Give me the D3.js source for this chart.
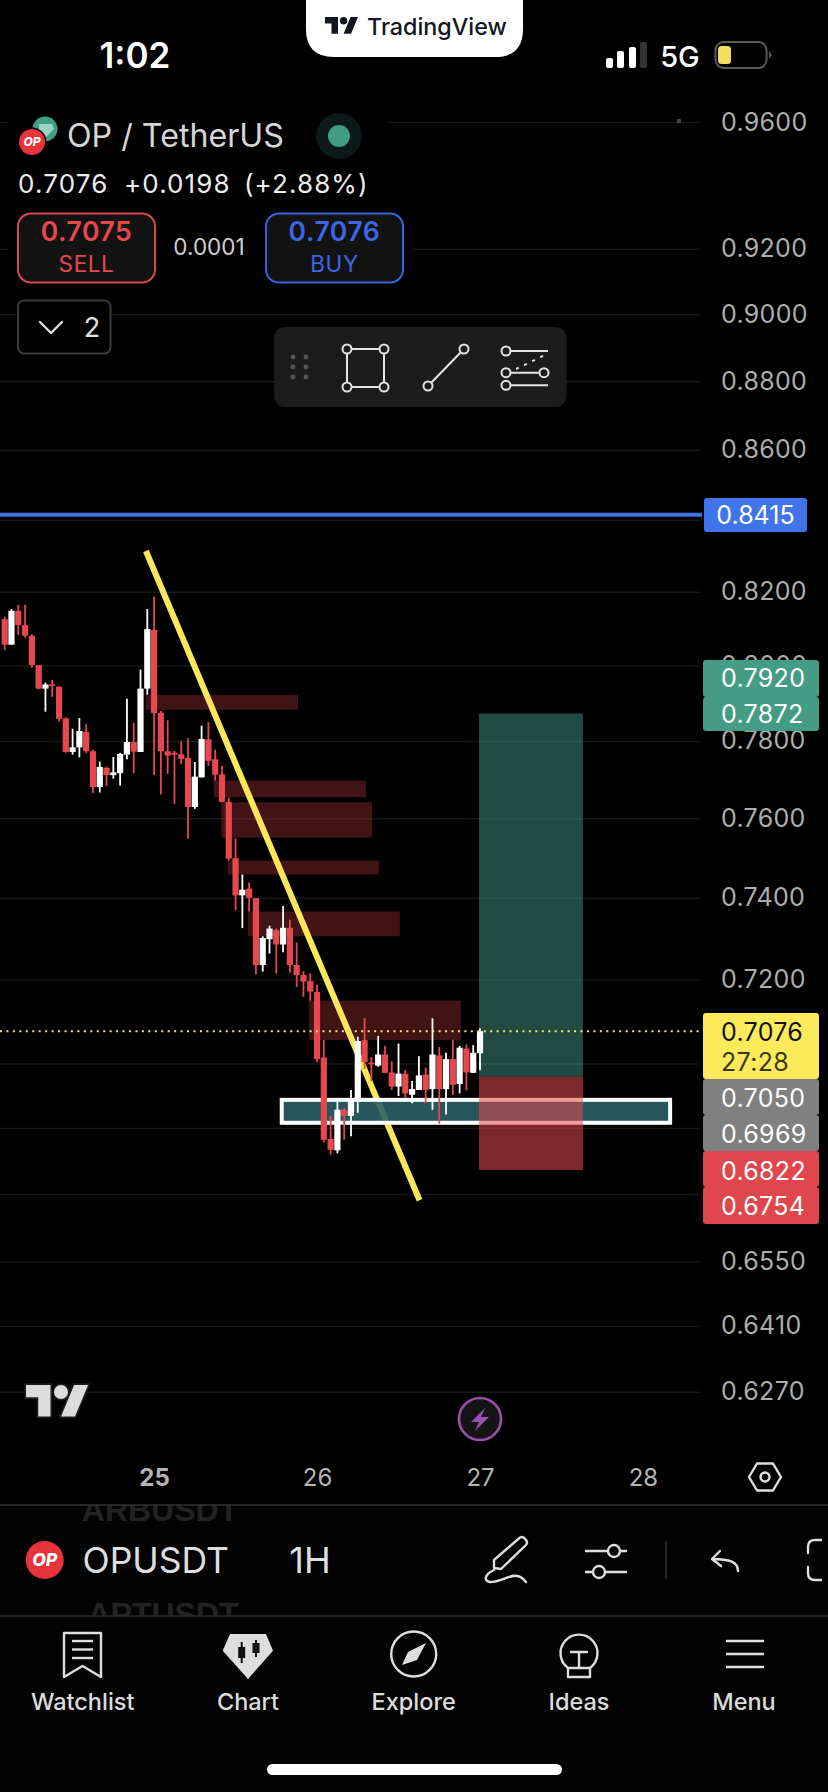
<!doctype html>
<html>
<head>
<meta charset="utf-8" />
<title>OPUSDT 1H</title>
<script src="https://cdn.jsdelivr.net/npm/d3@7"></script>
<style>
  html,body{margin:0;background:#000}
  svg{display:block;font-family:Inter,sans-serif}
  .axis path.domain{display:none}
  .y-axis line{stroke:#171717;stroke-width:1.5}
  .y-axis text{fill:#adadad;font-size:25px;font-family:Inter,sans-serif}
  .x-axis line{display:none}
  .x-axis text{fill:#b4b4b4;font-size:24px;font-family:Inter,sans-serif}
  .ico{fill:none;stroke:#dedede;stroke-width:2.4;stroke-linecap:round;stroke-linejoin:round}
</style>
</head>
<body>
<svg id="chart" width="828" height="1792"></svg>
<script>
// candles, oldest first, one per hour. last one opens at the "27" tick
const opens = [
  .8125,.8056,.8148,.8109,.8080,.8001,.7938,.7949,.7943,.7859,.7771,.7783,.7824,.7773,.7680,.7730,.7711,.7716,.7764,.7797,
  .7771,.7938,.8096,.7874,.7773,.7769,.7765,.7756,.7629,.7705,.7804,.7752,.7713,.7642,.7499,.7406,.7423,.7399,.7235,.7298,
  .7320,.7285,.7326,.7235,.7211,.7196,.7170,.7014,.6825,.6799,.6892,.6878,.6919,.7055,.7002,.6995,.7021,.6979,.6946,.6976,
  .6927,.6938,.6974,.6940,.7019,.6940,.7010,.6952,.7035,.6978,.7024
];
const highs = [
  .8132,.8153,.8164,.8164,.8084,.8001,.7954,.7961,.7944,.7862,.7832,.7860,.7844,.7777,.7746,.7733,.7758,.7769,.7911,.7847,
  .7989,.8153,.8187,.7879,.7854,.7774,.7799,.7807,.7745,.7840,.7849,.7777,.7735,.7653,.7549,.7458,.7438,.7400,.7305,.7331,
  .7324,.7380,.7346,.7290,.7220,.7215,.7187,.7055,.6878,.6911,.6896,.6938,.7063,.7107,.7015,.7065,.7041,.7005,.7047,.6985,
  .6959,.7017,.6990,.7107,.7039,.7025,.7056,.7041,.7045,.7043,.7083
];
const lows = [
  .8041,.8056,.8082,.8075,.7994,.7936,.7877,.7916,.7851,.7769,.7764,.7757,.7768,.7665,.7666,.7683,.7702,.7684,.7752,.7716,
  .7771,.7922,.7711,.7661,.7714,.7637,.7740,.7548,.7624,.7705,.7735,.7697,.7641,.7493,.7369,.7325,.7366,.7212,.7219,.7263,
  .7214,.7266,.7217,.7182,.7158,.7149,.7003,.6817,.6789,.6792,.6823,.6831,.6885,.6987,.6959,.6992,.6978,.6938,.6924,.6919,
  .6907,.6938,.6907,.6892,.6860,.6881,.6926,.6930,.6937,.6978,.6984
];
const closes = [
  .8056,.8148,.8109,.8080,.8001,.7938,.7949,.7945,.7858,.7771,.7783,.7826,.7773,.7680,.7732,.7711,.7718,.7766,.7797,.7772,
  .7938,.8098,.7873,.7773,.7762,.7764,.7753,.7629,.7707,.7805,.7748,.7712,.7642,.7498,.7406,.7420,.7400,.7235,.7301,.7324,
  .7285,.7326,.7235,.7211,.7195,.7171,.7010,.6823,.6800,.6892,.6878,.6919,.7053,.7003,.6998,.7021,.6978,.6946,.6976,.6930,
  .6940,.6972,.6938,.7021,.6940,.7010,.6950,.7037,.6979,.7025,.7076
];
const firstHour = -22;            // hours relative to the "25" tick

const priceTicks = [.96,.92,.90,.88,.86,.84,.82,.80,.78,.76,.74,.72,.70,.685,.67,.655,.641,.627];
const coveredTicks = [.84,.70,.685,.67];   // these sit behind the price tags, line only
const dayTicks = [0,24,48,72];
const dayLabels = ['25','26','27','28'];

// drawings: [hourFrom, hourTo, priceTop, priceBottom]
const supplyZones = [
  [-1.2,21.2,.7921,.7882],
  [8.8,31.2,.7697,.7654],
  [9.9,32.1,.7641,.7551],
  [10.9,33.1,.7493,.7458],
  [13.8,36.2,.7366,.7305],
  [22.8,45.2,.7149,.7055]
];
const demandZone = [18.8,76,.6915,.6862];
const trendLine = [[-1.2,.8313],[39.1,.6686]];
const longPosition = {from:48,to:63.3,target:.7872,entry:.6969,stop:.6754};
const lastPrice = .7076, alertPrice = .8415;

const tagValues = ['0.7920','0.7872','0.7076','0.7050','0.6969','0.6822','0.6754'];

const svg = d3.select('#chart');
const x = d3.scaleLinear().domain([-22,48]).range([4.7,480]);
const y = d3.scaleLog().domain([.96,.627]).range([122,1391.7]);

svg.append('rect').attr('width',828).attr('height',1792).attr('fill','#000');

// grid + price scale
const fmt = d3.format('.4f');
const yAxis = svg.append('g').attr('class','axis y-axis').attr('transform','translate(700,0)')
  .call(d3.axisRight(y).tickValues(priceTicks).tickSize(-700).tickPadding(21)
    .tickFormat(d=>coveredTicks.includes(d)?'':fmt(d)));
yAxis.selectAll('text').style('letter-spacing','.3px');

// header hides the grid behind it
svg.append('rect').attr('x',8).attr('y',105).attr('width',380).attr('height',70).attr('fill','#000');
svg.append('rect').attr('x',8).attr('y',240).attr('width',404).attr('height',20).attr('fill','#000');
svg.append('rect').attr('x',677).attr('y',119).attr('width',4).attr('height',4).attr('fill','#444');

const xAxis = svg.append('g').attr('class','axis x-axis').attr('transform','translate(0,1477)')
  .call(d3.axisBottom(x).tickValues(dayTicks).tickSize(0).tickPadding(0).tickFormat((d,i)=>dayLabels[i]));
xAxis.selectAll('text').attr('dy','.36em').attr('y',0);
xAxis.selectAll('text').filter((d,i)=>i===0).style('font-weight',700);

// lines
svg.append('line').attr('x1',0).attr('x2',702).attr('y1',y(alertPrice)).attr('y2',y(alertPrice))
  .attr('stroke','#3d6fe8').attr('stroke-width',4);

svg.selectAll('.supply').data(supplyZones).join('rect').attr('class','supply')
  .attr('x',d=>x(d[0])).attr('width',d=>x(d[1])-x(d[0]))
  .attr('y',d=>y(d[2])).attr('height',d=>y(d[3])-y(d[2]))
  .attr('fill','#e5484d').attr('fill-opacity',.28);

svg.append('path').attr('d',d3.line().x(d=>x(d[0])).y(d=>y(d[1]))(trendLine))
  .attr('stroke','#fbe85a').attr('stroke-width',6).attr('fill','none');

svg.append('rect')
  .attr('x',x(demandZone[0])).attr('width',x(demandZone[1])-x(demandZone[0]))
  .attr('y',y(demandZone[2])).attr('height',y(demandZone[3])-y(demandZone[2]))
  .attr('fill','#2b5f66').attr('fill-opacity',.9)
  .attr('stroke','#fff').attr('stroke-width',4);

// long position box
const lp = longPosition;
svg.append('rect').attr('x',x(lp.from)-1).attr('width',x(lp.to)-x(lp.from))
  .attr('y',y(lp.target)).attr('height',y(lp.entry)-y(lp.target))
  .attr('fill','#4aa595').attr('fill-opacity',.45);
svg.append('rect').attr('x',x(lp.from)-1).attr('width',x(lp.to)-x(lp.from))
  .attr('y',y(lp.entry)).attr('height',y(lp.stop)-y(lp.entry))
  .attr('fill','#e5484d').attr('fill-opacity',.55);

// candles on top of the drawings
const candles = opens.map((o,i)=>({hour:firstHour+i,o,h:highs[i],l:lows[i],c:closes[i]}));
const barColor = d=>d.c>=d.o?'#ffffff':'#e5484d';
svg.selectAll('.wick').data(candles).join('rect').attr('class','wick')
  .attr('x',d=>x(d.hour)-.9).attr('width',1.8)
  .attr('y',d=>y(d.h)).attr('height',d=>y(d.l)-y(d.h)).attr('fill',barColor);
svg.selectAll('.body').data(candles).join('rect').attr('class','body')
  .attr('x',d=>x(d.hour)-3.1).attr('width',6.2)
  .attr('y',d=>y(Math.max(d.o,d.c))).attr('height',d=>Math.max(1.5,Math.abs(y(d.o)-y(d.c)))).attr('fill',barColor);

svg.append('line').attr('x1',0).attr('x2',702).attr('y1',y(lastPrice)).attr('y2',y(lastPrice))
  .attr('stroke','#fdeb5c').attr('stroke-width',2).attr('stroke-dasharray','2,4.45');

// price tags
function tag(top,h,fill){
  svg.append('rect').attr('x',703).attr('y',top).attr('width',116).attr('height',h).attr('rx',3).attr('fill',fill);
}
function tagText(s,cy,fill,op){
  svg.append('text').attr('x',721).attr('y',cy).attr('dy','.36em').attr('font-size',25)
    .attr('letter-spacing','.3px').attr('fill',fill).attr('opacity',op||1).text(s);
}
tag(660,37,'#459c84'); tag(697,34,'#459c84');
tag(1013,66,'#fdeb5c');
tag(1079,36,'#808080'); tag(1115,36,'#808080');
tag(1151,36,'#e0474c'); tag(1187,37,'#e0474c');
tagText(tagValues[0],678,'#fff'); tagText(tagValues[1],714,'#fff');
tagText(tagValues[2],1032,'#111'); tagText('27:28',1062,'#3a3a12');
tagText(tagValues[3],1098,'#fff'); tagText(tagValues[4],1134,'#fff');
tagText(tagValues[5],1171,'#fff'); tagText(tagValues[6],1206,'#fff');
svg.append('rect').attr('x',704).attr('y',498).attr('width',103).attr('height',34).attr('rx',3).attr('fill','#3f74ea');
svg.append('text').attr('x',755.5).attr('y',515).attr('dy','.36em').attr('text-anchor','middle')
  .attr('font-size',25).attr('fill','#fff').text('0.8415');

// status bar
function txt(s,xx,yy,size,fill,opts){
  const t=svg.append('text').attr('x',xx).attr('y',yy).attr('font-size',size).attr('fill',fill).text(s);
  Object.entries(opts||{}).forEach(([k,v])=>t.attr(k,v));
  return t;
}
txt('1:02',135,68,35,'#fff',{'text-anchor':'middle','font-weight':600});
svg.append('path').attr('d','M306,0H523V29Q523,57 495,57H334Q306,57 306,29Z').attr('fill','#fff');
const tvLogo='M14 22H7V11H0V4h14v18zM28 22h-8l7.5-18h8L28 22z';
const tvPill=svg.append('g').attr('transform','translate(325,13.3) scale(.93)').attr('fill','#131722');
tvPill.append('path').attr('d',tvLogo); tvPill.append('circle').attr('cx',20).attr('cy',8).attr('r',4);
txt('TradingView',367,35,23.3,'#131722',{'font-weight':500});
[[606,58],[617,51],[629,47]].forEach(b=>svg.append('rect').attr('x',b[0]).attr('y',b[1]).attr('width',7).attr('height',68-b[1]).attr('rx',2).attr('fill','#fff'));
svg.append('rect').attr('x',640).attr('y',42).attr('width',7).attr('height',26).attr('rx',2).attr('fill','#333');
txt('5G',680,66.5,29,'#fff',{'text-anchor':'middle','font-weight':500});
svg.append('rect').attr('x',715.5).attr('y',42).attr('width',51).attr('height',26).attr('rx',8).attr('fill','none').attr('stroke','#5a5a5a').attr('stroke-width',2);
svg.append('rect').attr('x',718).attr('y',46).attr('width',13).attr('height',18).attr('rx',3.5).attr('fill','#f3dc5c');
svg.append('path').attr('d','M769,51L772,55L769,59Z').attr('fill','#5a5a5a');

// symbol header
function opIcon(cx,cy,r){
  svg.append('circle').attr('cx',cx).attr('cy',cy).attr('r',r).attr('fill','#e9333a');
  svg.append('text').attr('x',cx).attr('y',cy).attr('dy','.36em').attr('text-anchor','middle')
    .attr('font-size',r*.92).attr('font-weight',800).attr('font-style','italic').attr('fill','#fff').text('OP');
}
svg.append('circle').attr('cx',45).attr('cy',129).attr('r',12.5).attr('fill','#3fa085');
svg.append('path').attr('d','M39,124H52L54,129L46,137L39,129Z').attr('fill','#bfe3d8').attr('opacity',.75);
svg.append('circle').attr('cx',32).attr('cy',142).attr('r',14.5).attr('fill','#000');
opIcon(32,142,13);
txt('OP / TetherUS',67,147,32.2,'#d6d6d6');
svg.append('circle').attr('cx',339).attr('cy',136).attr('r',23).attr('fill','#0b1a18');
svg.append('circle').attr('cx',339).attr('cy',136).attr('r',11).attr('fill','#429b82');
txt('0.7076',18,192.5,26,'#ececec',{'letter-spacing':'1.2px'});
txt('+0.0198',124,192.5,26,'#ececec',{'letter-spacing':'1.1px'});
txt('(+2.88%)',244,192.5,26,'#ececec',{'letter-spacing':'1.1px'});

function tradeBtn(x0,stroke,price,label,fill){
  svg.append('rect').attr('x',x0).attr('y',213.5).attr('width',137).attr('height',69).attr('rx',13)
    .attr('fill','#121212').attr('stroke',stroke).attr('stroke-width',2);
  txt(price,x0+68.5,241,26.5,fill,{'text-anchor':'middle','font-weight':600,'letter-spacing':'.6px'});
  txt(label,x0+68.5,271.5,22.5,fill,{'text-anchor':'middle','letter-spacing':'.6px'});
}
tradeBtn(18,'#d8474a','0.7075','SELL','#e5484d');
tradeBtn(266,'#3763e0','0.7076','BUY','#3b66e6');
txt('0.0001',209,255,22.5,'#cfcfcf',{'text-anchor':'middle'});

svg.append('rect').attr('x',18).attr('y',300.5).attr('width',92.5).attr('height',53).attr('rx',6)
  .attr('fill','#000').attr('stroke','#3a3a3a').attr('stroke-width',2);
svg.append('path').attr('d','M40,322L51,333L62,322').attr('class','ico').attr('stroke-width',2.6);
txt('2',92,337,27,'#e0e0e0',{'text-anchor':'middle'});

// floating drawing toolbar
svg.append('rect').attr('x',274).attr('y',327).attr('width',292.5).attr('height',80).attr('rx',11).attr('fill','#1c1c1c');
[293,306].forEach(a=>[357,367,377].forEach(b=>svg.append('circle').attr('cx',a).attr('cy',b).attr('r',2.4).attr('fill','#565656')));
function node(cx,cy){svg.append('circle').attr('cx',cx).attr('cy',cy).attr('r',4.5).attr('fill','#1c1c1c').attr('stroke','#e4e4e4').attr('stroke-width',2);}
function seg(a,b,c,d){svg.append('line').attr('x1',a).attr('y1',b).attr('x2',c).attr('y2',d).attr('stroke','#e4e4e4').attr('stroke-width',2);}
seg(347,349,384,349);seg(384,349,384,387);seg(384,387,347,387);seg(347,387,347,349);
[[347,349],[384,349],[384,387],[347,387]].forEach(p=>node(p[0],p[1]));
seg(428,386,464,349);node(428,386);node(464,349);
seg(506,351,548,351);seg(506,372.7,544,372.7);seg(506,385.3,548,385.3);
svg.append('line').attr('x1',516).attr('y1',369).attr('x2',545).attr('y2',355).attr('stroke','#e4e4e4').attr('stroke-width',2).attr('stroke-dasharray','3,6');
node(506,351);node(506,372.7);node(544,372.7);node(506,385.3);

// watermark and marker on the chart
const wm=svg.append('g').attr('transform','translate(26,1378) scale(1.75)').attr('fill','#dcdcdc').attr('stroke','#1c1c1c').attr('stroke-width',2).style('paint-order','stroke');
wm.append('path').attr('d',tvLogo); wm.append('circle').attr('cx',20).attr('cy',8).attr('r',4);
svg.append('circle').attr('cx',480).attr('cy',1419).attr('r',21).attr('fill','#141414').attr('stroke','#9b4fb0').attr('stroke-width',2.6);
svg.append('path').attr('d','M485,1408L471,1422H479L475,1431L489,1417H481Z').attr('fill','#9b4fb0');
svg.append('path').attr('d','M757,1463.5H773L781,1477L773,1490.5H757L749,1477Z').attr('class','ico').attr('stroke','#d6d6d6').attr('stroke-width',2);
svg.append('circle').attr('cx',765).attr('cy',1477).attr('r',4.5).attr('class','ico').attr('stroke','#d6d6d6').attr('stroke-width',2);

// symbol bar
svg.append('rect').attr('y',1505).attr('width',828).attr('height',287).attr('fill','#030303');
svg.append('clipPath').attr('id','bar').append('rect').attr('y',1505).attr('width',828).attr('height',111);
const ghost=svg.append('g').attr('clip-path','url(#bar)').attr('font-family','Liberation Sans').attr('font-weight',700).attr('font-size',32).attr('fill','#222').attr('text-anchor','middle');
ghost.append('text').attr('x',160).attr('y',1521).text('ARBUSDT');
ghost.append('text').attr('x',163).attr('y',1625).text('APTUSDT');
svg.append('line').attr('x2',828).attr('y1',1505).attr('y2',1505).attr('stroke','#333').attr('stroke-width',1.5);
svg.append('line').attr('x2',828).attr('y1',1616).attr('y2',1616).attr('stroke','#2b2b2b').attr('stroke-width',1.5);
opIcon(44.7,1560,19);
txt('OPUSDT',82.5,1573,35.5,'#dedede');
txt('1H',310,1573,36,'#dedede',{'text-anchor':'middle'});
svg.append('path').attr('class','ico').attr('d','M494,1560L520,1537.5Q523,1536 526,1540Q528,1543 526,1545L501,1569L494,1568ZM494,1570C485,1574 483,1581 490,1582C505,1582 515,1568 526,1582');
[[585,1551,627,614],[585,1572,627,599]].forEach(s=>{
  svg.append('line').attr('x1',s[0]).attr('x2',s[2]).attr('y1',s[1]).attr('y2',s[1]).attr('stroke','#dedede').attr('stroke-width',2.4);
  svg.append('circle').attr('cx',s[3]).attr('cy',s[1]).attr('r',6).attr('fill','#030303').attr('stroke','#dedede').attr('stroke-width',2.4);
});
svg.append('line').attr('x1',666).attr('x2',666).attr('y1',1541).attr('y2',1579).attr('stroke','#333').attr('stroke-width',1.5);
svg.append('path').attr('class','ico').attr('d','M738,1571C738,1562 730,1559 712,1559M720,1551L712,1559L721,1566');
svg.append('path').attr('class','ico').attr('d','M821,1540H815Q808,1540 808,1547V1553M808,1567V1573Q808,1580 815,1580H821');

// tab bar
const tabs=['Watchlist','Chart','Explore','Ideas','Menu'];
const tabX=[82.7,248,413.7,579,744];
tabs.forEach((t,i)=>txt(t,tabX[i],1710,23.5,'#dcdcdc',{'text-anchor':'middle','font-weight':500}));
svg.append('path').attr('class','ico').attr('d','M64,1633H101V1677L82.5,1666L64,1677Z');
[1641,1649.5,1658].forEach(v=>svg.append('line').attr('x1',72).attr('x2',93).attr('y1',v).attr('y2',v).attr('stroke','#dedede').attr('stroke-width',2.4));
svg.append('path').attr('d','M230,1634H266L273,1650.7L248,1679L222.7,1650.7Z').attr('fill','#dedede');
[[241.7,1642,1663,1647,11],[256,1640,1657,1643,10]].forEach(c=>{
  svg.append('line').attr('x1',c[0]).attr('x2',c[0]).attr('y1',c[1]).attr('y2',c[2]).attr('stroke','#111').attr('stroke-width',2);
  svg.append('rect').attr('x',c[0]-3.5).attr('y',c[3]).attr('width',7).attr('height',c[4]).attr('fill','#111');
});
svg.append('circle').attr('cx',413.7).attr('cy',1654).attr('r',22.5).attr('class','ico');
svg.append('path').attr('d','M426,1643L408,1652L402,1665L417,1660Z').attr('fill','#dedede');
svg.append('path').attr('class','ico').attr('d','M568,1668A18.5,18.5 0 1 1 590,1668V1677H568ZM568,1668H590M571,1652H587M579,1652V1668');
[1641,1654,1667].forEach(v=>svg.append('line').attr('x1',726).attr('x2',764).attr('y1',v).attr('y2',v).attr('stroke','#dedede').attr('stroke-width',2.6));
svg.append('rect').attr('x',267).attr('y',1764).attr('width',295).attr('height',11).attr('rx',5.5).attr('fill','#fff');
</script>
</body>
</html>
